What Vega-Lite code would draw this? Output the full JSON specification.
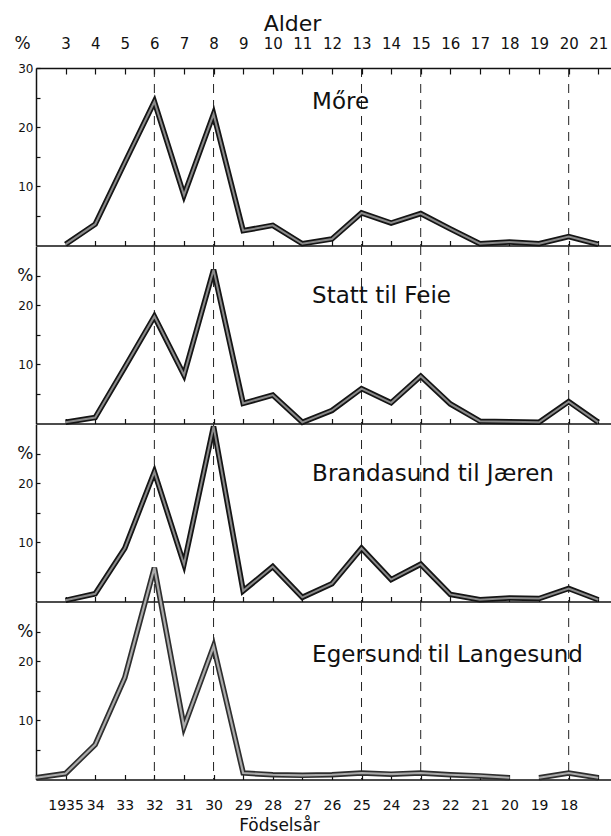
{
  "$schema": "https://vega.github.io/schema/vega-lite/v6.json",
  "background": "white",
  "padding": {"left": 13, "top": 12, "right": 0, "bottom": 0},
  "spacing": 0,
  "bounds": "flush",
  "config": {
    "view": {"stroke": null},
    "font": "DejaVu Sans",
    "axis": {"domainColor": "#111", "domainWidth": 1.5, "tickColor": "#111", "tickWidth": 1.2, "labelColor": "#111", "titleColor": "#111", "grid": false, "labelFont": "DejaVu Sans", "titleFont": "DejaVu Sans", "titleFontWeight": "normal", "labelOverlap": false, "labelFlush": false}
  },
  "datasets": {
    "pct": [
      {"region": "Møre", "age": 3, "pct": 0.2, "seg": "a"},
      {"region": "Møre", "age": 4, "pct": 3.6, "seg": "a"},
      {"region": "Møre", "age": 5, "pct": 14.0, "seg": "a"},
      {"region": "Møre", "age": 6, "pct": 24.3, "seg": "a"},
      {"region": "Møre", "age": 7, "pct": 8.5, "seg": "a"},
      {"region": "Møre", "age": 8, "pct": 22.2, "seg": "a"},
      {"region": "Møre", "age": 9, "pct": 2.5, "seg": "a"},
      {"region": "Møre", "age": 10, "pct": 3.4, "seg": "a"},
      {"region": "Møre", "age": 11, "pct": 0.3, "seg": "a"},
      {"region": "Møre", "age": 12, "pct": 1.1, "seg": "a"},
      {"region": "Møre", "age": 13, "pct": 5.5, "seg": "a"},
      {"region": "Møre", "age": 14, "pct": 3.8, "seg": "a"},
      {"region": "Møre", "age": 15, "pct": 5.4, "seg": "a"},
      {"region": "Møre", "age": 16, "pct": 2.8, "seg": "a"},
      {"region": "Møre", "age": 17, "pct": 0.3, "seg": "a"},
      {"region": "Møre", "age": 18, "pct": 0.6, "seg": "a"},
      {"region": "Møre", "age": 19, "pct": 0.3, "seg": "a"},
      {"region": "Møre", "age": 20, "pct": 1.5, "seg": "a"},
      {"region": "Møre", "age": 21, "pct": 0.2, "seg": "a"},
      {"region": "Statt", "age": 3, "pct": 0.2, "seg": "a"},
      {"region": "Statt", "age": 4, "pct": 1.0, "seg": "a"},
      {"region": "Statt", "age": 5, "pct": 9.5, "seg": "a"},
      {"region": "Statt", "age": 6, "pct": 18.1, "seg": "a"},
      {"region": "Statt", "age": 7, "pct": 8.2, "seg": "a"},
      {"region": "Statt", "age": 8, "pct": 26.0, "seg": "a"},
      {"region": "Statt", "age": 9, "pct": 3.4, "seg": "a"},
      {"region": "Statt", "age": 10, "pct": 4.8, "seg": "a"},
      {"region": "Statt", "age": 11, "pct": 0.2, "seg": "a"},
      {"region": "Statt", "age": 12, "pct": 2.2, "seg": "a"},
      {"region": "Statt", "age": 13, "pct": 5.9, "seg": "a"},
      {"region": "Statt", "age": 14, "pct": 3.5, "seg": "a"},
      {"region": "Statt", "age": 15, "pct": 8.0, "seg": "a"},
      {"region": "Statt", "age": 16, "pct": 3.3, "seg": "a"},
      {"region": "Statt", "age": 17, "pct": 0.4, "seg": "a"},
      {"region": "Statt", "age": 18, "pct": 0.3, "seg": "a"},
      {"region": "Statt", "age": 19, "pct": 0.2, "seg": "a"},
      {"region": "Statt", "age": 20, "pct": 3.7, "seg": "a"},
      {"region": "Statt", "age": 21, "pct": 0.2, "seg": "a"},
      {"region": "Brandasund", "age": 3, "pct": 0.2, "seg": "a"},
      {"region": "Brandasund", "age": 4, "pct": 1.3, "seg": "a"},
      {"region": "Brandasund", "age": 5, "pct": 9.0, "seg": "a"},
      {"region": "Brandasund", "age": 6, "pct": 21.9, "seg": "a"},
      {"region": "Brandasund", "age": 7, "pct": 6.3, "seg": "a"},
      {"region": "Brandasund", "age": 8, "pct": 29.6, "seg": "a"},
      {"region": "Brandasund", "age": 9, "pct": 1.8, "seg": "a"},
      {"region": "Brandasund", "age": 10, "pct": 5.9, "seg": "a"},
      {"region": "Brandasund", "age": 11, "pct": 0.7, "seg": "a"},
      {"region": "Brandasund", "age": 12, "pct": 3.0, "seg": "a"},
      {"region": "Brandasund", "age": 13, "pct": 9.0, "seg": "a"},
      {"region": "Brandasund", "age": 14, "pct": 3.7, "seg": "a"},
      {"region": "Brandasund", "age": 15, "pct": 6.3, "seg": "a"},
      {"region": "Brandasund", "age": 16, "pct": 1.2, "seg": "a"},
      {"region": "Brandasund", "age": 17, "pct": 0.3, "seg": "a"},
      {"region": "Brandasund", "age": 18, "pct": 0.6, "seg": "a"},
      {"region": "Brandasund", "age": 19, "pct": 0.5, "seg": "a"},
      {"region": "Brandasund", "age": 20, "pct": 2.2, "seg": "a"},
      {"region": "Brandasund", "age": 21, "pct": 0.3, "seg": "a"},
      {"region": "Egersund", "age": 2, "pct": 0.3, "seg": "a"},
      {"region": "Egersund", "age": 3, "pct": 1.0, "seg": "a"},
      {"region": "Egersund", "age": 4, "pct": 5.9, "seg": "a"},
      {"region": "Egersund", "age": 5, "pct": 17.2, "seg": "a"},
      {"region": "Egersund", "age": 6, "pct": 35.8, "seg": "a"},
      {"region": "Egersund", "age": 7, "pct": 8.9, "seg": "a"},
      {"region": "Egersund", "age": 8, "pct": 22.5, "seg": "a"},
      {"region": "Egersund", "age": 9, "pct": 1.1, "seg": "a"},
      {"region": "Egersund", "age": 10, "pct": 0.8, "seg": "a"},
      {"region": "Egersund", "age": 11, "pct": 0.7, "seg": "a"},
      {"region": "Egersund", "age": 12, "pct": 0.8, "seg": "a"},
      {"region": "Egersund", "age": 13, "pct": 1.1, "seg": "a"},
      {"region": "Egersund", "age": 14, "pct": 0.9, "seg": "a"},
      {"region": "Egersund", "age": 15, "pct": 1.1, "seg": "a"},
      {"region": "Egersund", "age": 16, "pct": 0.8, "seg": "a"},
      {"region": "Egersund", "age": 17, "pct": 0.6, "seg": "a"},
      {"region": "Egersund", "age": 18, "pct": 0.3, "seg": "a"},
      {"region": "Egersund", "age": 19, "pct": 0.3, "seg": "b"},
      {"region": "Egersund", "age": 20, "pct": 1.1, "seg": "b"},
      {"region": "Egersund", "age": 21, "pct": 0.3, "seg": "b"}
    ],
    "dashed": [{"age": 6}, {"age": 8}, {"age": 13}, {"age": 15}, {"age": 20}],
    "names": [
      {"region": "Møre", "label": "Mőre"},
      {"region": "Statt", "label": "Statt til Feie"},
      {"region": "Brandasund", "label": "Brandasund til Jæren"},
      {"region": "Egersund", "label": "Egersund til Langesund"}
    ]
  },
  "vconcat": [
    {
      "width": 575, "height": 177.5,
      "resolve": {"axis": {"x": "independent"}},
      "layer": [
        {
          "data": {"name": "dashed"},
          "mark": {"type": "rule", "strokeDash": [9, 7], "strokeWidth": 1, "color": "#222"},
          "encoding": {"x": {"field": "age", "type": "quantitative", "scale": {"domain": [2, 21.43], "nice": false, "zero": false},
            "axis": {"orient": "top", "values": [3,4,5,6,7,8,9,10,11,12,13,14,15,16,17,18,19,20,21], "tickCount": 100, "format": "d", "tickSize": -6, "labelPadding": 23, "labelFontSize": 15, "labelOverlap": false, "title": "Alder", "titleFontSize": 22, "titleX": 256, "titleY": -45, "titleAlign": "center", "titleBaseline": "middle"}}}
        },
        {
          "data": {"name": "pct"},
          "transform": [{"filter": "datum.region === 'Møre'"}],
          "mark": {"type": "line", "color": "#151515", "strokeWidth": 5.5, "strokeJoin": "miter", "strokeMiterLimit": 4},
          "encoding": {
            "x": {"field": "age", "type": "quantitative", "axis": {"orient": "bottom", "values": [3,4,5,6,7,8,9,10,11,12,13,14,15,16,17,18,19,20,21], "tickCount": 100, "labels": false, "tickSize": -5, "title": null}},
            "y": {"field": "pct", "type": "quantitative", "scale": {"domain": [0, 30], "nice": false},
              "axis": {"values": [5,10,15,20,25,30], "tickCount": 100, "format": "d", "labelExpr": "datum.value == 10 || datum.value == 20 || datum.value == 30 ? datum.label : ''", "labelFontSize": 12, "tickSize": -4, "labelPadding": 7, "labelOverlap": false, "title": "%", "titleAngle": 0, "titleX": -14, "titleY": -25, "titleAlign": "center", "titleBaseline": "middle", "titleFontSize": 17}},
            "detail": {"field": "seg"}
          }
        },
        {
          "data": {"name": "pct"},
          "transform": [{"filter": "datum.region === 'Møre'"}],
          "mark": {"type": "line", "color": "#8a8a8a", "strokeWidth": 2, "strokeJoin": "miter", "strokeMiterLimit": 4},
          "encoding": {
            "x": {"field": "age", "type": "quantitative", "axis": null},
            "y": {"field": "pct", "type": "quantitative"},
            "detail": {"field": "seg"}
          }
        },
        {
          "data": {"name": "names"},
          "transform": [{"filter": "datum.region === 'Møre'"}],
          "mark": {"type": "text", "align": "left", "baseline": "middle", "fontSize": 23, "color": "#111"},
          "encoding": {"x": {"datum": 11.33, "axis": null}, "y": {"datum": 24.2}, "text": {"field": "label"}}
        }
      ]
    },
    {
      "width": 575, "height": 177.5,
      "layer": [
        {
          "data": {"name": "dashed"},
          "mark": {"type": "rule", "strokeDash": [9, 7], "strokeWidth": 1, "color": "#222"},
          "encoding": {"x": {"field": "age", "type": "quantitative", "scale": {"domain": [2, 21.43], "nice": false, "zero": false},
            "axis": {"orient": "bottom", "values": [3,4,5,6,7,8,9,10,11,12,13,14,15,16,17,18,19,20,21], "tickCount": 100, "labels": false, "tickSize": -5, "title": null}}}
        },
        {
          "data": {"name": "pct"},
          "transform": [{"filter": "datum.region === 'Statt'"}],
          "mark": {"type": "line", "color": "#151515", "strokeWidth": 5.5, "strokeJoin": "miter", "strokeMiterLimit": 4},
          "encoding": {
            "x": {"field": "age", "type": "quantitative"},
            "y": {"field": "pct", "type": "quantitative", "scale": {"domain": [0, 30], "nice": false},
              "axis": {"values": [5,10,15,20,25], "tickCount": 100, "format": "d", "labelExpr": "datum.value == 25 ? '%' : (datum.value % 10 == 0 ? datum.label : '')", "labelFontSize": {"condition": {"test": "datum.value == 25", "value": 17}, "value": 12}, "tickSize": -4, "labelPadding": 7, "title": null}},
            "detail": {"field": "seg"}
          }
        },
        {
          "data": {"name": "pct"},
          "transform": [{"filter": "datum.region === 'Statt'"}],
          "mark": {"type": "line", "color": "#8a8a8a", "strokeWidth": 2, "strokeJoin": "miter", "strokeMiterLimit": 4},
          "encoding": {"x": {"field": "age", "type": "quantitative"}, "y": {"field": "pct", "type": "quantitative"}, "detail": {"field": "seg"}}
        },
        {
          "data": {"name": "names"},
          "transform": [{"filter": "datum.region === 'Statt'"}],
          "mark": {"type": "text", "align": "left", "baseline": "middle", "fontSize": 23, "color": "#111"},
          "encoding": {"x": {"datum": 11.33}, "y": {"datum": 21.5}, "text": {"field": "label"}}
        }
      ]
    },
    {
      "width": 575, "height": 177.5,
      "layer": [
        {
          "data": {"name": "dashed"},
          "mark": {"type": "rule", "strokeDash": [9, 7], "strokeWidth": 1, "color": "#222"},
          "encoding": {"x": {"field": "age", "type": "quantitative", "scale": {"domain": [2, 21.43], "nice": false, "zero": false},
            "axis": {"orient": "bottom", "values": [3,4,5,6,7,8,9,10,11,12,13,14,15,16,17,18,19,20,21], "tickCount": 100, "labels": false, "tickSize": -5, "title": null}}}
        },
        {
          "data": {"name": "pct"},
          "transform": [{"filter": "datum.region === 'Brandasund'"}],
          "mark": {"type": "line", "color": "#151515", "strokeWidth": 5.5, "strokeJoin": "miter", "strokeMiterLimit": 4},
          "encoding": {
            "x": {"field": "age", "type": "quantitative"},
            "y": {"field": "pct", "type": "quantitative", "scale": {"domain": [0, 30], "nice": false},
              "axis": {"values": [5,10,15,20,25], "tickCount": 100, "format": "d", "labelExpr": "datum.value == 25 ? '%' : (datum.value % 10 == 0 ? datum.label : '')", "labelFontSize": {"condition": {"test": "datum.value == 25", "value": 17}, "value": 12}, "tickSize": -4, "labelPadding": 7, "title": null}},
            "detail": {"field": "seg"}
          }
        },
        {
          "data": {"name": "pct"},
          "transform": [{"filter": "datum.region === 'Brandasund'"}],
          "mark": {"type": "line", "color": "#8a8a8a", "strokeWidth": 2, "strokeJoin": "miter", "strokeMiterLimit": 4},
          "encoding": {"x": {"field": "age", "type": "quantitative"}, "y": {"field": "pct", "type": "quantitative"}, "detail": {"field": "seg"}}
        },
        {
          "data": {"name": "names"},
          "transform": [{"filter": "datum.region === 'Brandasund'"}],
          "mark": {"type": "text", "align": "left", "baseline": "middle", "fontSize": 23, "color": "#111"},
          "encoding": {"x": {"datum": 11.33}, "y": {"datum": 21.5}, "text": {"field": "label"}}
        }
      ]
    },
    {
      "width": 575, "height": 177.5,
      "layer": [
        {
          "data": {"name": "dashed"},
          "mark": {"type": "rule", "strokeDash": [9, 7], "strokeWidth": 1, "color": "#222"},
          "encoding": {"x": {"field": "age", "type": "quantitative", "scale": {"domain": [2, 21.43], "nice": false, "zero": false},
            "axis": {"orient": "bottom", "values": [3,4,5,6,7,8,9,10,11,12,13,14,15,16,17,18,19,20,21], "tickCount": 100, "format": "d", "labelExpr": "datum.value == 3 ? '1935' : (datum.value <= 20 ? format(38 - datum.value, '02d') : '')", "labelFontSize": 14, "labelOverlap": false, "tickSize": -5, "labelPadding": 24, "title": "Födselsår", "titleFontSize": 17, "titleX": 243, "titleY": 46, "titleAlign": "center", "titleBaseline": "middle"}}}
        },
        {
          "data": {"name": "pct"},
          "transform": [{"filter": "datum.region === 'Egersund'"}],
          "mark": {"type": "line", "color": "#2e2e2e", "strokeWidth": 5.5, "strokeJoin": "miter", "strokeMiterLimit": 4},
          "encoding": {
            "x": {"field": "age", "type": "quantitative"},
            "y": {"field": "pct", "type": "quantitative", "scale": {"domain": [0, 30], "nice": false},
              "axis": {"values": [5,10,15,20,25], "tickCount": 100, "format": "d", "labelExpr": "datum.value == 25 ? '%' : (datum.value % 10 == 0 ? datum.label : '')", "labelFontSize": {"condition": {"test": "datum.value == 25", "value": 17}, "value": 12}, "tickSize": -4, "labelPadding": 7, "title": null}},
            "detail": {"field": "seg"}
          }
        },
        {
          "data": {"name": "pct"},
          "transform": [{"filter": "datum.region === 'Egersund'"}],
          "mark": {"type": "line", "color": "#ababab", "strokeWidth": 2.2, "strokeJoin": "miter", "strokeMiterLimit": 4},
          "encoding": {"x": {"field": "age", "type": "quantitative"}, "y": {"field": "pct", "type": "quantitative"}, "detail": {"field": "seg"}}
        },
        {
          "data": {"name": "names"},
          "transform": [{"filter": "datum.region === 'Egersund'"}],
          "mark": {"type": "text", "align": "left", "baseline": "middle", "fontSize": 23, "color": "#111"},
          "encoding": {"x": {"datum": 11.33}, "y": {"datum": 21.1}, "text": {"field": "label"}}
        }
      ]
    }
  ]
}
